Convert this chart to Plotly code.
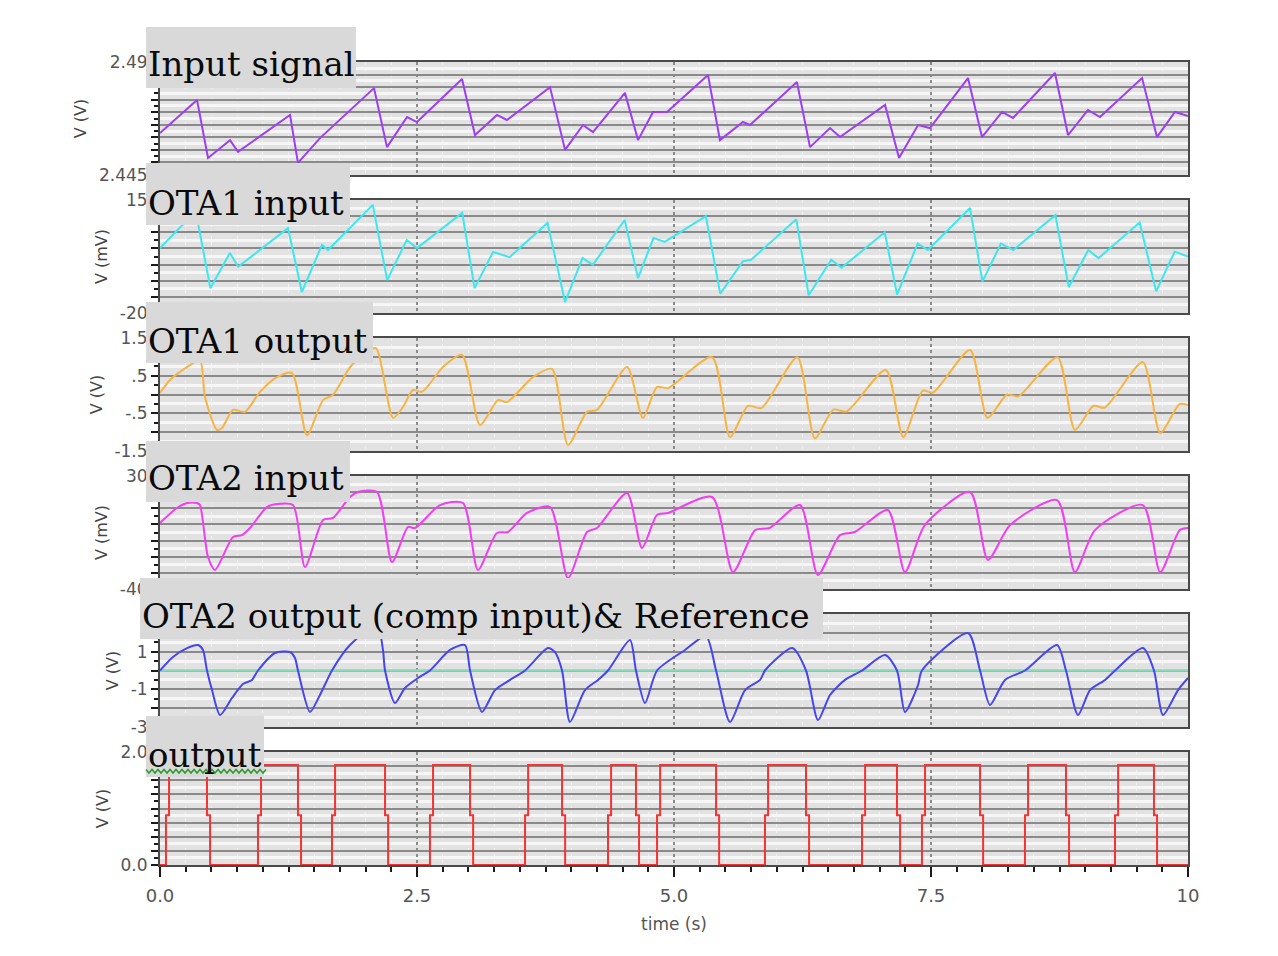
import plotly.graph_objects as go
import numpy as np

W, H = 1278, 956

# ---------------- data (time in s) ----------------
t_input = [0, 0.360, 0.467, 0.681, 0.759, 1.265, 1.342, 1.556, 2.082, 2.208, 2.403, 2.500,
           2.938, 3.064, 3.278, 3.375, 3.794, 3.940, 4.115, 4.212, 4.523, 4.650, 4.796, 4.932,
           5.331, 5.447, 5.671, 5.739, 6.196, 6.323, 6.518, 6.615, 7.053, 7.189, 7.374, 7.490,
           7.860, 7.996, 8.191, 8.298, 8.706, 8.833, 9.027, 9.144, 9.553, 9.698, 9.873, 10.0]
v_input = [2.4617, 2.4749, 2.4518, 2.4589, 2.4542, 2.4689, 2.4498, 2.4597, 2.4796, 2.4561, 2.4681, 2.4661,
           2.4832, 2.4609, 2.4689, 2.4669, 2.4800, 2.4550, 2.4649, 2.4621, 2.4777, 2.4589, 2.4701, 2.4701,
           2.4848, 2.4589, 2.4661, 2.4649, 2.4820, 2.4561, 2.4637, 2.4601, 2.4729, 2.4518, 2.4649, 2.4637,
           2.4836, 2.4601, 2.4701, 2.4677, 2.4856, 2.4609, 2.4709, 2.4681, 2.4836, 2.4601, 2.4701, 2.4685]

t_ota1_in = [0, 0.22, 0.36, 0.49, 0.68, 0.76, 1.245, 1.38, 1.576, 1.634, 2.07, 2.21, 2.40, 2.50,
             2.94, 3.06, 3.24, 3.40, 3.77, 3.94, 4.11, 4.21, 4.52, 4.65, 4.80, 4.91,
             5.31, 5.45, 5.67, 5.75, 6.19, 6.31, 6.53, 6.63, 7.05, 7.17, 7.37, 7.47,
             7.88, 8.0, 8.18, 8.30, 8.71, 8.84, 9.03, 9.13, 9.53, 9.69, 9.87, 10.0]
v_ota1_in = [0.1, 7.3, 9.5, -12.3, -1.4, -5.7, 6.3, -13.5, 1.1, -0.5, 13.5, -9.8, 2.6, 0.1,
             11.0, -12.3, -1.1, -2.7, 7.9, -16.6, -3.0, -5.1, 8.8, -9.2, 3.2, 2.0,
             10.0, -14.0, -4.0, -3.5, 9.0, -14.5, -3.5, -6.0, 5.0, -14.3, 1.5, -0.5,
             12.5, -10.3, 1.5, -0.5, 10.3, -12.0, -0.5, -3.0, 8.0, -13.3, -1.0, -2.5]

t_ota1_out = [0, 0.097, 0.292, 0.389, 0.438, 0.554, 0.603, 0.710, 0.827, 0.973, 1.138, 1.284,
              1.430, 1.586, 1.683, 1.85, 2.0, 2.101, 2.267, 2.364, 2.461, 2.549, 2.753, 2.938,
              3.113, 3.288, 3.375, 3.628, 3.813, 3.969, 4.154, 4.251, 4.543, 4.698, 4.835, 4.942,
              5.37, 5.545, 5.72, 5.85, 6.20, 6.37, 6.55, 6.68, 7.06, 7.23, 7.42, 7.52,
              7.88, 8.05, 8.24, 8.35, 8.73, 8.90, 9.08, 9.19, 9.56, 9.73, 9.92, 10.0]
v_ota1_out = [0.04, 0.385, 0.78, 0.92, -0.07, -0.94, -0.89, -0.41, -0.46, 0.07, 0.46, 0.57,
              -1.08, -0.15, -0.01, 0.73, 1.1, 1.23, -0.62, -0.33, 0.12, 0.07, 0.73, 1.05,
              -0.81, -0.15, -0.2, 0.46, 0.68, -1.34, -0.46, -0.41, 0.73, -0.62, 0.2, 0.17,
              0.99, -1.13, -0.3, -0.36, 0.99, -1.16, -0.4, -0.45, 0.65, -1.13, 0.1, 0.05,
              1.18, -0.62, 0.0, -0.05, 0.99, -0.94, -0.3, -0.35, 0.86, -1.02, -0.25, -0.28]

t_ota2_in = [0, 0.165, 0.263, 0.36, 0.389, 0.467, 0.535, 0.710, 0.798, 0.875, 1.041, 1.138, 1.294,
             1.411, 1.586, 1.683, 1.848, 1.926, 2.111, 2.257, 2.412, 2.481, 2.724, 2.947,
             3.093, 3.278, 3.385, 3.570, 3.794, 3.969, 4.154, 4.251, 4.543, 4.689, 4.835, 4.942,
             5.37, 5.574, 5.79, 5.93, 6.226, 6.40, 6.615, 6.76, 7.08, 7.247, 7.44,
             7.88, 8.054, 8.27, 8.726, 8.90, 9.095, 9.56, 9.73, 9.92, 10.0]
v_ota2_in = [0.9, 10.2, 13.3, 13.3, 12.0, -20.2, -28.2, -7.8, -6.6, -2.2, 10.8, 12.7, 12.0,
             -26.4, 2.7, 4.0, 17.0, 20.1, 20.1, -23.3, -1.6, -2.2, 12.0, 13.3,
             -28.2, -5.3, -4.7, 7.1, 10.8, -33.2, -4.7, -2.2, 19.5, -14.6, 5.8, 7.1,
             17.0, -29.5, -3.5, -2.2, 12.0, -31.3, -6.6, -4.7, 8.9, -29.5, -0.4,
             20.1, -22.0, -0.4, 15.1, -29.5, -3.5, 12.0, -29.5, -3.5, -2.2]

t_ota2_out = [0, 0.126, 0.263, 0.370, 0.418, 0.457, 0.506, 0.584, 0.700, 0.807, 0.895, 0.953,
              1.119, 1.265, 1.313, 1.342, 1.459, 1.556, 1.673, 1.848, 2.111, 2.169, 2.189,
              2.286, 2.383, 2.510, 2.626, 2.821, 2.967, 3.016, 3.132, 3.259, 3.405, 3.551,
              3.774, 3.842, 3.911, 3.988, 4.134, 4.261, 4.358, 4.572, 4.630, 4.718, 4.835,
              5.107, 5.311, 5.409, 5.545, 5.691, 5.837, 5.885, 6.15, 6.284, 6.401, 6.518,
              6.663, 6.829, 7.053, 7.169, 7.247, 7.374, 7.412, 7.860, 7.977, 8.074, 8.220,
              8.414, 8.726, 8.813, 8.930, 9.047, 9.193, 9.290, 9.562, 9.669, 9.757, 9.903, 10.0]
v_ota2_out = [0.0, 0.72, 1.19, 1.35, 1.09, 0.0, -1.04, -2.36, -1.46, -0.72, -0.5, 0.0,
              0.93, 0.98, 0.66, 0.0, -2.2, -1.3, 0.0, 1.35, 2.42, 1.09, 0.0,
              -1.73, -0.93, -0.4, 0.0, 1.09, 1.35, 0.0, -2.2, -1.04, -0.5, 0.0,
              1.19, 0.98, 0.0, -2.73, -1.04, -0.5, 0.0, 1.62, 0.0, -1.73, 0.0,
              1.09, 1.83, 0.0, -2.73, -1.04, -0.5, 0.0, 1.19, 0.0, -2.63, -1.3,
              -0.5, 0.0, 0.82, 0.0, -2.2, -0.77, 0.0, 1.99, 0.0, -1.83, -0.5,
              0.0, 1.35, 0.0, -2.36, -1.04, -0.5, 0.0, 1.19, 0.0, -2.36, -1.04, -0.4]

t_ref = [0, 10]
v_ref = [0.0, 0.0]

out_rise = [0.058, 0.953, 1.673, 2.626, 3.551, 4.358, 4.835, 5.885, 6.829, 7.412, 8.414, 9.290]
out_fall = [0.457, 1.342, 2.189, 3.016, 3.911, 4.630, 5.409, 6.284, 7.169, 7.977, 8.813, 9.669]
out_low, out_mid, out_high = 0.0, 0.88, 1.77

labels = ["Input signal", "OTA1 input", "OTA1 output", "OTA2 input",
          "OTA2 output (comp input)& Reference", "output"]
y_titles = ["V (V)", "V (mV)", "V (V)", "V (mV)", "V (V)", "V (V)"]
y_ranges = [(2.445, 2.49), (-20, 15), (-1.5, 1.5), (-40, 30), (-3, 3), (0, 2.0)]
y_steps = [0.005, 5, 0.5, 10, 1, 0.25]
y_tick_labels = [{2.445: "2.445", 2.49: "2.49"},
                 {-20: "-20", 15: "15"},
                 {1.5: "1.5", 0.5: ".5", -0.5: "-.5", -1.5: "-1.5"},
                 {30: "30", -40: "-40"},
                 {1: "1", -1: "-1", -3: "-3"},
                 {2.0: "2.0", 0.0: "0.0"}]
x_ticks = [0, 2.5, 5, 7.5, 10]
x_ticktext = ["0.0", "2.5", "5.0", "7.5", "10"]

colors = ["#9d3ff0", "#3ee6ef", "#f6b445", "#f03ff0", "#4646ee", "#f23434"]
shapes_line = ["linear", "linear", "spline", "spline", "spline", "linear"]
ref_color = "#86dcb8"

# ---------------- layout geometry (pixels) ----------------
X0, X1 = 160, 1188
tops = [62, 200, 338, 476, 614, 752]
PH = 113
boxes = [(146, 27, 356, 88, 77), (146, 163, 350, 225, 216), (146, 302, 373, 363, 354),
         (146, 441, 350, 502, 491), (140, 578, 823, 639, 629), (146, 716, 264, 777, 768)]


def fx(p):
    return p / W


def fy(p):
    return 1 - p / H


# output square wave (two-stage edges)
d = 0.03
ox, oy = [0.0], [out_low]
for r, f in zip(out_rise, out_fall):
    ox += [r, r, r + d, r + d, f, f, f + d, f + d]
    oy += [out_low, out_mid, out_mid, out_high, out_high, out_mid, out_mid, out_low]
ox.append(10.0)
oy.append(out_low)

series = [(t_input, v_input), (t_ota1_in, v_ota1_in), (t_ota1_out, v_ota1_out),
          (t_ota2_in, v_ota2_in), (t_ota2_out, v_ota2_out), (ox, oy)]

fig = go.Figure()
layout = dict(width=W, height=H, margin=dict(l=0, r=0, t=0, b=0),
              paper_bgcolor="white", plot_bgcolor="#e2e2e2", showlegend=False,
              font=dict(family="DejaVu Sans", color="#555555"))

for i in range(6):
    n = "" if i == 0 else str(i + 1)
    xa, ya = "x" + n, "y" + n
    if i == 4:
        fig.add_trace(go.Scatter(x=t_ref, y=v_ref, mode="lines", xaxis=xa, yaxis=ya,
                                 line=dict(color=ref_color, width=2.5), hoverinfo="skip"))
    t, v = series[i]
    ln = dict(color=colors[i], width=2, shape=shapes_line[i])
    if shapes_line[i] == "spline":
        ln["smoothing"] = 0.7
    fig.add_trace(go.Scatter(x=t, y=v, mode="lines", xaxis=xa, yaxis=ya,
                             line=ln, hoverinfo="skip"))

    lo, hi = y_ranges[i]
    st = y_steps[i]
    nsteps = int(round((hi - lo) / st))
    gvals = [round(lo + k * st, 6) for k in range(nsteps + 1)]
    gtext = []
    for g in gvals:
        lab = ""
        for key, val in y_tick_labels[i].items():
            if abs(key - g) < 1e-9:
                lab = val
        gtext.append(lab)
    mvals = [round(lo + (k + 0.5) * st, 6) for k in range(nsteps)]

    top = tops[i]
    layout["yaxis" + n] = dict(
        domain=[fy(top + PH), fy(top)], range=[lo, hi], anchor=xa,
        tickmode="array", tickvals=gvals, ticktext=gtext,
        showgrid=True, gridcolor="#8a8a8a", gridwidth=2,
        ticks="outside", ticklen=7, tickwidth=2, tickcolor="#1a1a1a",
        minor=dict(tickvals=mvals, showgrid=True, gridcolor="#f6f6f6", gridwidth=3,
                   ticks="outside", ticklen=4, tickwidth=1.5, tickcolor="#1a1a1a"),
        showline=True, mirror=True, linecolor="#4a4a4a", linewidth=2,
        zeroline=False, automargin=False,
        tickfont=dict(family="DejaVu Sans", size=17, color="#555555"),
        title=dict(text=y_titles[i], font=dict(family="DejaVu Sans", size=16, color="#444444"),
                   standoff=8),
        fixedrange=True,
    )
    last = (i == 5)
    layout["xaxis" + n] = dict(
        domain=[fx(X0), fx(X1)], range=[0, 10], anchor=ya,
        tickmode="array", tickvals=x_ticks, ticktext=x_ticktext if last else [""] * 5,
        showticklabels=last,
        showgrid=True, gridcolor="#8a8a8a", gridwidth=1.5, griddash="dot",
        minor=dict(dtick=0.25, tick0=0, showgrid=True, gridcolor="#f0f0f0", gridwidth=1,
                   ticks="outside" if last else "", ticklen=5, tickwidth=2, tickcolor="#1a1a1a"),
        ticks="outside" if last else "", ticklen=10, tickwidth=2, tickcolor="#1a1a1a",
        showline=True, mirror=True, linecolor="#4a4a4a", linewidth=2,
        zeroline=False, automargin=False,
        tickfont=dict(family="DejaVu Sans", size=18, color="#555555"),
        ticklabelstandoff=3,
        title=dict(text="time (s)" if last else "",
                   font=dict(family="DejaVu Sans", size=17, color="#555555"), standoff=14),
        fixedrange=True,
    )

shapes = []
annotations = []
for (x0, y0, x1, y1, base), lab in zip(boxes, labels):
    shapes.append(dict(type="rect", xref="paper", yref="paper", layer="above",
                       x0=fx(x0), x1=fx(x1), y0=fy(y1), y1=fy(y0),
                       fillcolor="#d9d9d9", line=dict(width=0)))
    annotations.append(dict(xref="paper", yref="paper", x=fx(x0), y=fy(base + 9),
                            xanchor="left", yanchor="bottom", showarrow=False, text=lab,
                            font=dict(family="DejaVu Serif", size=34, color="#0a0a0a")))

# green spell-check squiggle under "output"
zx = np.arange(146, 267, 3)
zy = np.where((np.arange(len(zx)) % 2) == 0, 769.5, 773.0)
path = "M " + " L ".join(f"{fx(a):.5f},{fy(b):.5f}" for a, b in zip(zx, zy))
shapes.append(dict(type="path", xref="paper", yref="paper", layer="above", path=path,
                   line=dict(color="#2e9a2e", width=1.5)))

layout["shapes"] = shapes
layout["annotations"] = annotations
fig.update_layout(**layout)

fig.write_html("out.html")
